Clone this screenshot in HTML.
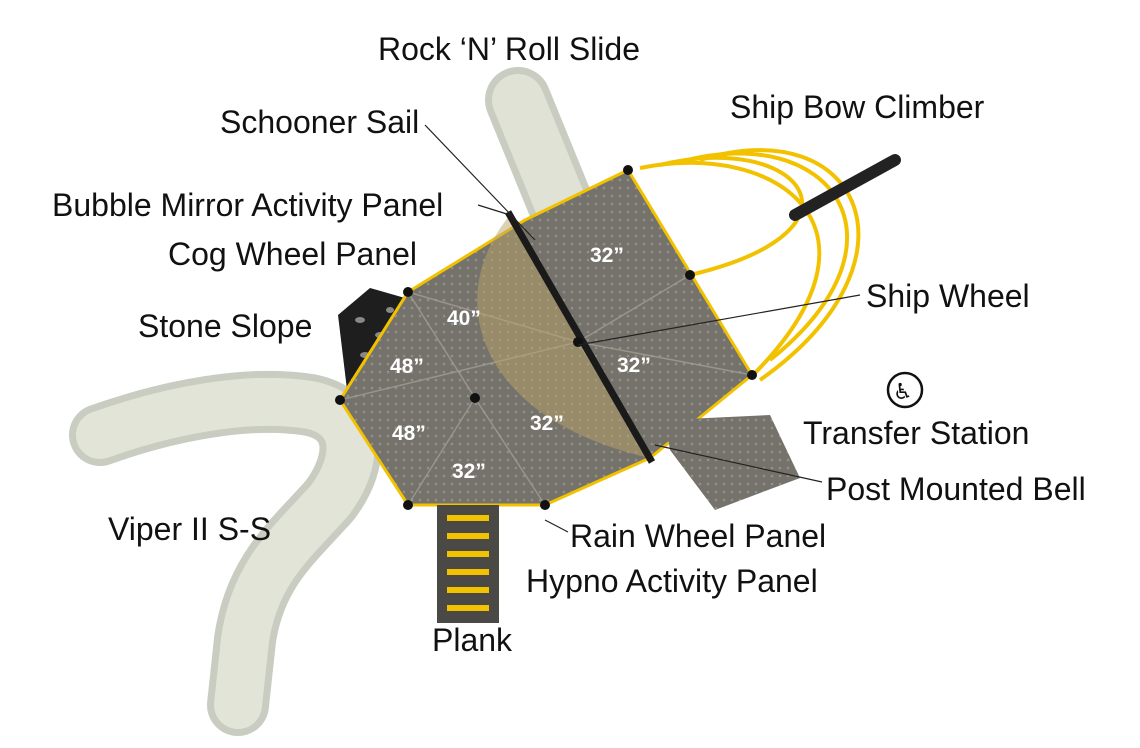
<!DOCTYPE html>
<html><head><meta charset="utf-8"><style>
html,body{margin:0;padding:0;background:#fff;}
svg{display:block}
.l{font-family:"Liberation Sans",sans-serif;font-size:32px;fill:#111;}
.d{font-family:"Liberation Sans",sans-serif;font-size:21px;font-weight:bold;fill:#fff;}
</style></head><body>
<svg width="1140" height="748" viewBox="0 0 1140 748" xmlns="http://www.w3.org/2000/svg">
<defs>
<pattern id="g" width="8" height="8" patternUnits="userSpaceOnUse"><rect width="8" height="8" fill="#74726b"/><circle cx="4" cy="4" r="1.3" fill="#929088"/></pattern>
</defs>
<!-- viper slide -->
<path d="M100,435 C170,410 250,395 310,405 C360,415 360,460 330,500 C295,540 255,570 245,640 L238,705" fill="none" stroke="#c9ccc0" stroke-width="62" stroke-linecap="round"/>
<path d="M100,435 C170,410 250,395 310,405 C360,415 360,460 330,500 C295,540 255,570 245,640 L238,705" fill="none" stroke="#e2e4d8" stroke-width="48" stroke-linecap="round"/>
<!-- rock n roll slide -->
<path d="M518,100 L565,215" stroke="#c9ccc0" stroke-width="66" stroke-linecap="round"/>
<path d="M518,100 L565,215" stroke="#e0e2d6" stroke-width="52" stroke-linecap="round"/>
<!-- climber arcs -->
<g fill="none" stroke="#f2c200" stroke-width="4">
<path d="M640,168 C780,140 900,230 750,378"/>
<path d="M660,165 C800,130 880,230 690,275"/>
<path d="M680,162 C830,120 920,240 770,360"/>
<path d="M700,160 C860,110 930,260 760,380"/>
</g>
<path d="M795,215 L895,160" stroke="#222" stroke-width="12" stroke-linecap="round"/>
<!-- stone slope -->
<polygon points="338,315 370,288 412,300 408,392 348,398" fill="#1e1e1e"/>
<g fill="#888"><ellipse cx="360" cy="320" rx="5" ry="3"/><ellipse cx="380" cy="335" rx="5" ry="3"/><ellipse cx="365" cy="355" rx="5" ry="3"/><ellipse cx="390" cy="310" rx="4" ry="3"/><ellipse cx="355" cy="380" rx="4" ry="3"/><ellipse cx="385" cy="370" rx="5" ry="3"/></g>
<!-- deck -->
<polygon points="525,220 628,170 752,375 650,458 545,505 408,505 340,400 408,292" fill="url(#g)" stroke="#f2c200" stroke-width="3"/>
<g stroke="#a09e94" stroke-width="1.5" fill="none" opacity=".8">
<line x1="408" y1="292" x2="475" y2="398"/><line x1="340" y1="400" x2="578" y2="342"/><line x1="475" y1="398" x2="408" y2="505"/><line x1="475" y1="398" x2="545" y2="505"/><line x1="408" y1="292" x2="578" y2="342"/><line x1="690" y1="275" x2="578" y2="342"/><line x1="578" y1="342" x2="752" y2="375"/><line x1="578" y1="342" x2="650" y2="458"/>
</g>
<!-- transfer station -->
<polygon points="665,420 770,415 800,478 715,510 670,450" fill="url(#g)"/>
<!-- sail -->
<path d="M510,215 C440,300 480,420 650,458 Z" fill="#b9a46a" opacity=".5"/>
<line x1="508" y1="212" x2="652" y2="462" stroke="#1a1a1a" stroke-width="7"/>
<!-- posts -->
<g fill="#111"><circle cx="628" cy="170" r="5"/><circle cx="690" cy="275" r="5"/><circle cx="752" cy="375" r="5"/><circle cx="408" cy="292" r="5"/><circle cx="340" cy="400" r="5"/><circle cx="408" cy="505" r="5"/><circle cx="475" cy="398" r="5"/><circle cx="578" cy="342" r="5"/><circle cx="545" cy="505" r="5"/></g>
<!-- plank -->
<rect x="437" y="505" width="62" height="118" fill="#4a4945"/>
<g fill="#f2c200"><rect x="447" y="515" width="42" height="6"/><rect x="447" y="533" width="42" height="6"/><rect x="447" y="551" width="42" height="6"/><rect x="447" y="569" width="42" height="6"/><rect x="447" y="587" width="42" height="6"/><rect x="447" y="605" width="42" height="6"/></g>
<!-- deck heights -->
<text class="d" x="590" y="262">32”</text><text class="d" x="447" y="325">40”</text><text class="d" x="390" y="373">48”</text><text class="d" x="617" y="372">32”</text><text class="d" x="392" y="440">48”</text><text class="d" x="530" y="430">32”</text><text class="d" x="452" y="478">32”</text>
<!-- leaders -->
<g stroke="#222" stroke-width="1.2">
<line x1="425" y1="125" x2="535" y2="240"/><line x1="478" y1="205" x2="510" y2="215"/><line x1="860" y1="295" x2="578" y2="345"/><line x1="822" y1="482" x2="655" y2="445"/><line x1="568" y1="532" x2="545" y2="520"/>
</g>
<!-- wheelchair icon -->
<circle cx="905" cy="390" r="17" fill="none" stroke="#111" stroke-width="2.5"/>
<text x="893" y="399" font-family="DejaVu Sans" font-size="22" fill="#111">♿</text>
<!-- labels -->
<text class="l" x="378" y="60">Rock ‘N’ Roll Slide</text>
<text class="l" x="730" y="118">Ship Bow Climber</text>
<text class="l" x="220" y="133">Schooner Sail</text>
<text class="l" x="52" y="216">Bubble Mirror Activity Panel</text>
<text class="l" x="168" y="265">Cog Wheel Panel</text>
<text class="l" x="866" y="307">Ship Wheel</text>
<text class="l" x="138" y="337">Stone Slope</text>
<text class="l" x="803" y="444">Transfer Station</text>
<text class="l" x="826" y="500">Post Mounted Bell</text>
<text class="l" x="108" y="540">Viper II S-S</text>
<text class="l" x="570" y="547">Rain Wheel Panel</text>
<text class="l" x="526" y="592">Hypno Activity Panel</text>
<text class="l" x="432" y="651">Plank</text>
</svg>
</body></html>
